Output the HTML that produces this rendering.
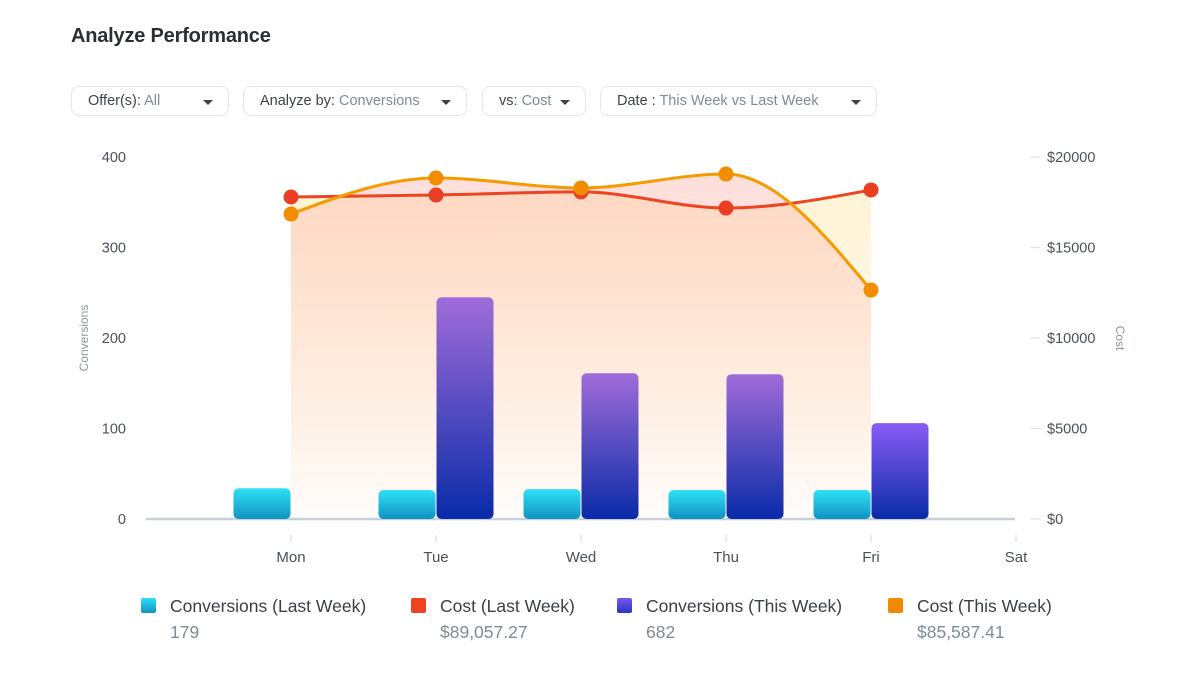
<!DOCTYPE html>
<html><head><meta charset="utf-8"><style>
body{margin:0;width:1200px;height:676px;background:#fff;font-family:"Liberation Sans",sans-serif;overflow:hidden;position:relative}
.title{position:absolute;left:71px;top:25px;font-size:20px;font-weight:bold;color:#2b2f33;letter-spacing:-0.2px}
.dd{position:absolute;top:86px;height:30px;border:1px solid #e3e6ea;border-radius:8px;box-sizing:border-box;font-size:14.5px;color:#3d4248;line-height:29px;padding-left:16px}
.dd span{color:#7d8b98}
.dd i{position:absolute;top:13px;width:0;height:0;border-left:5px solid transparent;border-right:5px solid transparent;border-top:5px solid #3d4248}
.lg{position:absolute;top:596px;font-size:17.5px;color:#3a3f45}
.lg b{position:absolute;left:0;top:2px;width:15px;height:15px;border-radius:2px}
.lg .t{position:absolute;left:29px;top:0;white-space:nowrap}
.lg .v{position:absolute;left:29px;top:26px;color:#7d8b98;white-space:nowrap}
</style></head><body>
<div class="title">Analyze Performance</div>
<div class="dd" style="left:71px;width:158px">Offer(s): <span>All</span><i style="left:131px"></i></div>
<div class="dd" style="left:243px;width:224px">Analyze by: <span>Conversions</span><i style="left:197px"></i></div>
<div class="dd" style="left:482px;width:104px">vs: <span>Cost</span><i style="left:77px"></i></div>
<div class="dd" style="left:600px;width:277px">Date : <span>This Week vs Last Week</span><i style="left:250px"></i></div>

<svg id="chart" width="1200" height="676" style="position:absolute;left:0;top:0">
<defs>
<linearGradient id="gLast" x1="0" y1="0" x2="0" y2="1"><stop offset="0" stop-color="#30e0f5"/><stop offset="1" stop-color="#0f93c2"/></linearGradient>
<linearGradient id="gThis" x1="0" y1="0" x2="0" y2="1"><stop offset="0" stop-color="#a06cd8"/><stop offset="1" stop-color="#0a2ba8"/></linearGradient>
<linearGradient id="gThisF" x1="0" y1="0" x2="0" y2="1"><stop offset="0" stop-color="#8a5cf5"/><stop offset="1" stop-color="#0a2ba8"/></linearGradient>
<linearGradient id="fOr" gradientUnits="userSpaceOnUse" x1="0" y1="170" x2="0" y2="519"><stop offset="0" stop-color="#fbb0a8" stop-opacity="0.42"/><stop offset="1" stop-color="#fbb0a8" stop-opacity="0.02"/></linearGradient>
<linearGradient id="fRd" gradientUnits="userSpaceOnUse" x1="0" y1="170" x2="0" y2="519"><stop offset="0" stop-color="#ffe6a6" stop-opacity="0.5"/><stop offset="1" stop-color="#ffe6a6" stop-opacity="0.02"/></linearGradient>
</defs>
<g id="grid"></g><g id="areas"></g><g id="bars"></g><g id="lines"></g><g id="labels"></g>
</svg>

<div class="lg" style="left:141px"><b style="background:linear-gradient(#30e0f5,#0f93c2)"></b><div class="t">Conversions (Last Week)</div><div class="v">179</div></div>
<div class="lg" style="left:411px"><b style="background:#ee4422"></b><div class="t">Cost (Last Week)</div><div class="v">$89,057.27</div></div>
<div class="lg" style="left:617px"><b style="background:linear-gradient(#7a55f0,#2a35c0)"></b><div class="t">Conversions (This Week)</div><div class="v">682</div></div>
<div class="lg" style="left:888px"><b style="background:#f28a00"></b><div class="t">Cost (This Week)</div><div class="v">$85,587.41</div></div>

<script>
const days=["Mon","Tue","Wed","Thu","Fri","Sat"];
const convLast=[34,32,33,32,32];
const convThis=[0,245,161,160,106];
const costLast=[17790,17900,18070,17180,18180];
const costThis=[16850,18840,18290,19060,12650];
const convTicks=[0,100,200,300,400];
const costTicks=[0,5000,10000,15000,20000];
const NS="http://www.w3.org/2000/svg";
const x=i=>291+i*145;
const yL=v=>519-v*(362/400);
const yR=v=>519-v*(362/20000);
function mk(tag,attrs,parent){const e=document.createElementNS(NS,tag);for(const k in attrs)e.setAttribute(k,attrs[k]);document.getElementById(parent).appendChild(e);return e;}
let ax=mk('line',{x1:146,x2:1015,y1:519,y2:519,stroke:'#c5d0de','stroke-width':2.5},'grid');


days.forEach((d,i)=>{
 let t=mk('line',{x1:x(i),x2:x(i),y1:535,y2:542,stroke:'#dde2e8','stroke-width':1.5},'grid');
 
 
 let l=mk('text',{x:x(i),y:562,'text-anchor':'middle','font-size':15,fill:'#4a5058'},'labels');l.textContent=d;
 
 
});
convTicks.forEach(v=>{
 let l=mk('text',{x:126,y:yL(v)+5,'text-anchor':'end','font-size':14.5,fill:'#4a5058'},'labels');l.textContent=v;
 
 
});
costTicks.forEach(v=>{
 let t=mk('line',{x1:1030,x2:1040,y1:yR(v),y2:yR(v),stroke:'#e3e7ec','stroke-width':1.5},'grid');
 
 
 let l=mk('text',{x:1047,y:yR(v)+5,'font-size':14.5,fill:'#4a5058'},'labels');l.textContent='$'+v;
 
 
});
let yt=mk('text',{x:0,y:0,'font-size':12,fill:'#8a96a3','text-anchor':'middle',transform:'translate(88,338) rotate(-90)'},'labels');yt.textContent='Conversions';


let yt2=mk('text',{x:0,y:0,'font-size':12,fill:'#8a96a3','text-anchor':'middle',transform:'translate(1116,338) rotate(90)'},'labels');yt2.textContent='Cost';


// monotone X cubic
function spline(p){const n=p.length,s=[],m=[];for(let i=0;i<n-1;i++)s.push((p[i+1][1]-p[i][1])/(p[i+1][0]-p[i][0]));
 for(let i=0;i<n;i++){if(i==0)m.push(s[0]);else if(i==n-1)m.push(s[n-2]);else{const a=s[i-1],b=s[i];m.push(a*b<=0?0:(a+b)/2*Math.min(1,3*Math.min(Math.abs(a),Math.abs(b))/Math.abs((a+b)/2)));}}
 m[0]=(3*s[0]-m[1])/2;m[n-1]=(3*s[n-2]-m[n-2])/2;
 let d=`M${p[0][0]},${p[0][1]}`;for(let i=0;i<n-1;i++){const h=(p[i+1][0]-p[i][0])/3;d+=` C${p[i][0]+h},${p[i][1]+m[i]*h} ${p[i+1][0]-h},${p[i+1][1]-m[i+1]*h} ${p[i+1][0]},${p[i+1][1]}`;}return d;}
const pR=costLast.map((v,i)=>[x(i),yR(v)]);
const pO=costThis.map((v,i)=>[x(i),yR(v)]);
const n=costLast.length-1;
let aR=mk('path',{d:spline(pR)+` L${x(n)},519 L${x(0)},519 Z`,fill:'url(#fRd)'},'areas');


let aO=mk('path',{d:spline(pO)+` L${x(n)},519 L${x(0)},519 Z`,fill:'url(#fOr)'},'areas');


const bw=57;
convLast.forEach((v,i)=>{if(v<=0)return;
 let r=mk('rect',{x:x(i)-bw-0.5,y:yL(v),width:bw,height:519-yL(v),rx:5,fill:'url(#gLast)'},'bars');
 
 
});
convThis.forEach((v,i)=>{if(v<=0)return;
 let r=mk('rect',{x:x(i)+0.5,y:yL(v),width:bw,height:519-yL(v),rx:5,fill:i==4?'url(#gThisF)':'url(#gThis)'},'bars');
 
 
});
let lR=mk('path',{d:spline(pR),fill:'none',stroke:'#ee4422','stroke-width':3},'lines');


let lO=mk('path',{d:spline(pO),fill:'none',stroke:'#f59a00','stroke-width':3},'lines');


pR.forEach((p,i)=>{let c=mk('circle',{cx:p[0],cy:p[1],r:7.5,fill:'#ea3f22'},'lines');
 
 });
pO.forEach((p,i)=>{let c=mk('circle',{cx:p[0],cy:p[1],r:7.5,fill:'#f28d00'},'lines');
 
 });
</script>
</body></html>
